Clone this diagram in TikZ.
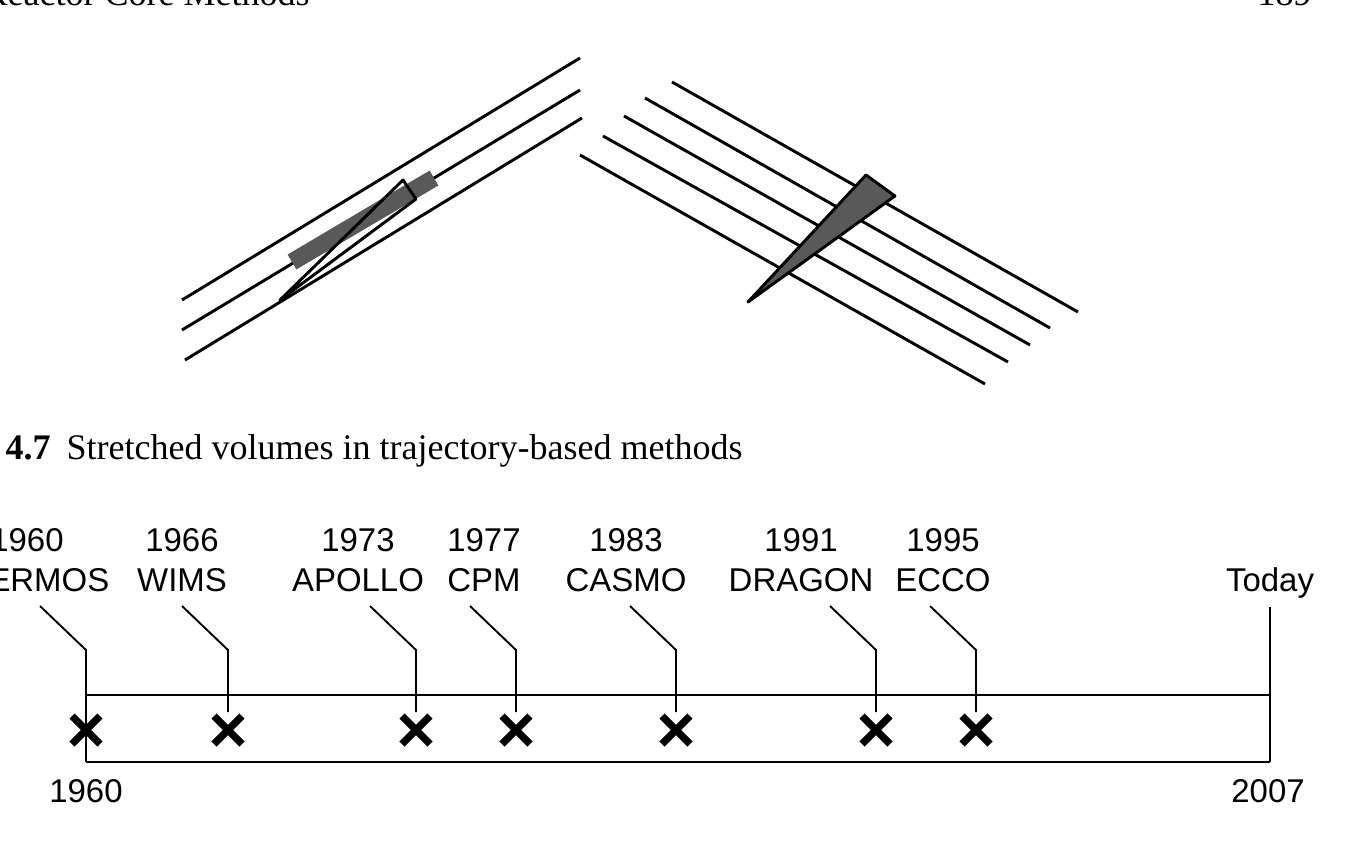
\documentclass[tikz,border=0pt]{standalone}
\usepackage{fontspec}
\setmainfont{Liberation Serif}
\setsansfont{Liberation Sans}
\tikzset{every picture/.style={line width=0.75pt}}
\tikzset{
  ray/.style={line width=2.2pt},
  cross/.style={line width=5.5pt},
  lbl/.style={font=\sffamily\fontsize{24.7}{28}\selectfont, inner sep=0pt},
  serif/.style={font=\fontsize{27}{31}\selectfont, inner sep=0pt},
}
\begin{document}
\begin{tikzpicture}[x=0.75pt,y=0.75pt,yscale=-1,xscale=1]
\useasboundingbox (0,0) rectangle (1345,857);

% page header
\node [serif, anchor=base east] (head) at (310,5) {Reactor Core Methods};
\node [serif, anchor=base east] (page) at (1312,5) {189};

% left bundle
\draw [ray] (182,300) -- (580,58);
\draw [ray] (182,330) -- (580,90);
\draw [ray] (185,360) -- (582,118);
\draw [line width=13pt, color=black!65] (292,262) -- (434,178);
\draw [line width=2.2pt, line join=round] (280,300) -- (403,180) -- (416,199) -- cycle;

% right bundle
\draw [ray] (672,82) -- (1078,312);
\draw [ray] (645,98) -- (1050,328);
\draw [ray] (624,116) -- (1030,345);
\draw [ray] (603,136) -- (1008,362);
\draw [ray] (580,155) -- (985,384);
\draw [line width=2.2pt, line join=round, fill=black!65] (748,302) -- (866,175) -- (895,196) -- cycle;

% caption
\node [serif, anchor=base west] (cap) at (5,459) {\textbf{4.7}\hspace{0.45em}Stretched volumes in trajectory-based methods};

% timeline
\draw [line width=1.4pt] (86,695) -- (1270,695);
\draw [line width=2pt] (86,762) -- (1270,762);
\draw [line width=1.4pt] (86,650) -- (86,762);
\draw [line width=1.4pt] (1270,607) -- (1270,762);

\foreach \x/\lx/\ly/\yr/\nm in {86/37/27/1960/HERMOS, 228/182/182/1966/WIMS, 416/358/358/1973/APOLLO, 516/484/484/1977/CPM, 676/626/626/1983/CASMO, 876/801/801/1991/DRAGON, 976/943/943/1995/ECCO}{
  \draw [line width=1.4pt] (\x-46,606) -- (\x,650) -- (\x,712);
  \draw [cross] (\x-14,716) -- (\x+14,744);
  \draw [cross] (\x-14,744) -- (\x+14,716);
  \node [lbl, anchor=base] (y\yr) at (\ly,551) {\yr};
  \node [lbl, anchor=base] (n\yr) at (\lx,591) {\nm};
}
\node [lbl, anchor=base] (today) at (1270,591) {Today};
\node [lbl, anchor=base] (start) at (86,802) {1960};
\node [lbl, anchor=base] (end) at (1268,802) {2007};
\end{tikzpicture}
\end{document}
